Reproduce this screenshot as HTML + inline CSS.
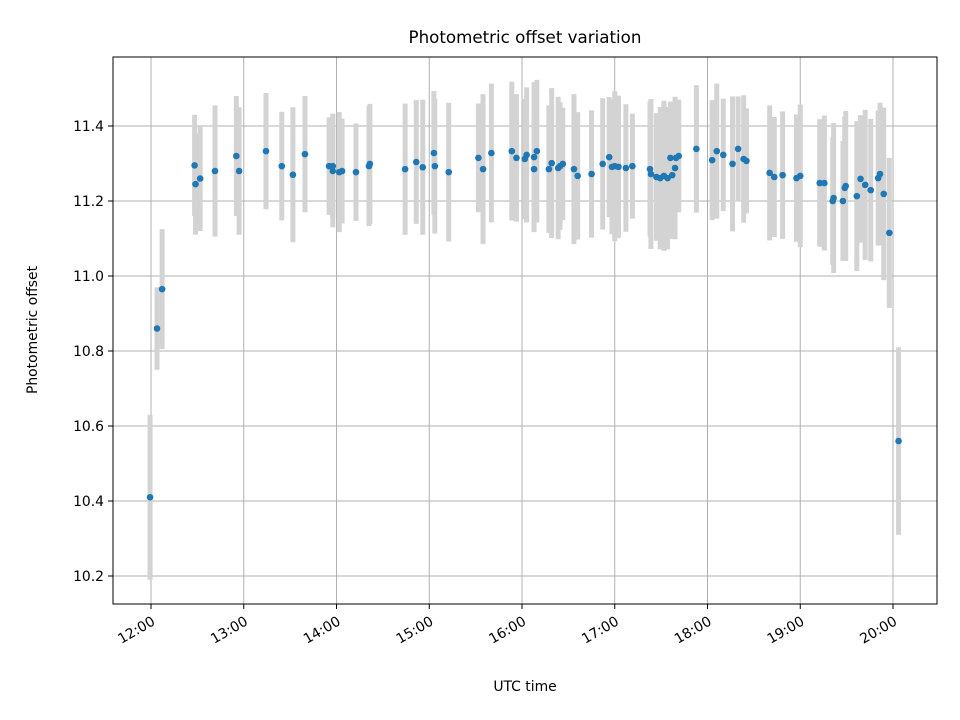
<!DOCTYPE html>
<html><head><meta charset="utf-8"><style>
html,body{margin:0;padding:0;background:#fff;}
svg{display:block;font-family:"DejaVu Sans","Liberation Sans",sans-serif;}
</style></head><body>
<svg id="chart" width="960" height="720" viewBox="0 0 960 720" xmlns="http://www.w3.org/2000/svg">
<rect width="960" height="720" fill="#fff"/>
<g id="grid"></g>
<g id="errs"></g>
<g id="pts"></g>
<rect x="113" y="57" width="824" height="547" fill="none" stroke="#000" stroke-width="1"/>
<g id="axes"></g>
<text x="525" y="43" font-size="16.7" text-anchor="middle">Photometric offset variation</text>
<text x="525" y="691" font-size="13.9" text-anchor="middle">UTC time</text>
<text x="37" y="330" font-size="13.9" text-anchor="middle" transform="rotate(-90 37 330)">Photometric offset</text>
</svg>
<script>
const times=[11.99,12.065,12.12,12.47,12.48,12.53,12.69,12.92,12.95,13.24,13.41,13.53,13.66,13.92,13.96,13.96,14.03,14.06,14.21,14.35,14.36,14.74,14.86,14.93,15.05,15.06,15.21,15.53,15.58,15.67,15.89,15.94,16.03,16.05,16.13,16.16,16.13,16.29,16.32,16.39,16.41,16.44,16.56,16.60,16.75,16.87,16.94,16.97,17.00,17.04,17.12,17.19,17.38,17.39,17.45,17.49,17.53,17.57,17.60,17.62,17.65,17.66,17.69,17.88,18.05,18.10,18.17,18.27,18.33,18.39,18.42,18.67,18.72,18.81,18.96,19.00,19.21,19.26,19.35,19.36,19.46,19.48,19.49,19.61,19.65,19.70,19.76,19.84,19.86,19.90,19.96,20.06];
const values=[10.41,10.86,10.965,11.295,11.245,11.26,11.28,11.32,11.28,11.333,11.293,11.27,11.325,11.293,11.293,11.28,11.277,11.28,11.277,11.293,11.299,11.285,11.304,11.29,11.328,11.293,11.277,11.315,11.285,11.328,11.333,11.315,11.312,11.323,11.317,11.333,11.285,11.285,11.301,11.288,11.293,11.299,11.285,11.267,11.272,11.299,11.317,11.291,11.293,11.291,11.288,11.293,11.285,11.272,11.264,11.261,11.267,11.261,11.315,11.269,11.288,11.315,11.32,11.339,11.309,11.333,11.323,11.299,11.339,11.312,11.307,11.275,11.264,11.269,11.261,11.267,11.248,11.248,11.2,11.208,11.2,11.235,11.24,11.213,11.259,11.243,11.229,11.261,11.272,11.219,11.115,10.56];
const errors=[0.22,0.11,0.16,0.135,0.135,0.14,0.175,0.16,0.17,0.155,0.145,0.18,0.155,0.13,0.14,0.15,0.16,0.14,0.13,0.16,0.16,0.175,0.165,0.18,0.165,0.18,0.185,0.145,0.2,0.185,0.185,0.17,0.16,0.18,0.2,0.19,0.15,0.17,0.2,0.19,0.17,0.15,0.2,0.17,0.17,0.175,0.16,0.18,0.2,0.19,0.17,0.14,0.18,0.2,0.17,0.19,0.2,0.19,0.15,0.17,0.19,0.14,0.15,0.17,0.16,0.18,0.15,0.18,0.14,0.17,0.14,0.18,0.16,0.17,0.17,0.19,0.17,0.18,0.17,0.2,0.16,0.19,0.2,0.2,0.17,0.2,0.19,0.18,0.19,0.23,0.2,0.25];
const xTicks=[12,13,14,15,16,17,18,19,20];
const xTickLabels=["12:00","13:00","14:00","15:00","16:00","17:00","18:00","19:00","20:00"];
const yTicks=[10.2,10.4,10.6,10.8,11.0,11.2,11.4];
const yTickLabels=["10.2","10.4","10.6","10.8","11.0","11.2","11.4"];

const NS="http://www.w3.org/2000/svg";
const L=113,R=937,T=57,B=604;
const xMin=11.5903,xMax=20.4744,yMin=10.1253,yMax=11.584;
function sx(t){return L+(t-xMin)/(xMax-xMin)*(R-L);}
function sy(v){return B-(v-yMin)/(yMax-yMin)*(B-T);}
function mk(tag,attrs,parent){const e=document.createElementNS(NS,tag);for(const k in attrs)e.setAttribute(k,attrs[k]);parent.appendChild(e);return e;}
const grid=document.getElementById('grid'),axes=document.getElementById('axes'),errs=document.getElementById('errs'),pts=document.getElementById('pts');
xTicks.forEach((t,i)=>{
  const x=sx(t);
  const g=mk('line',{x1:x,x2:x,y1:T,y2:B,stroke:'#b0b0b0','stroke-width':1},grid);
  
  
  const tk=mk('line',{x1:x,x2:x,y1:B,y2:B+5,stroke:'#000','stroke-width':1},axes);
  
  
  const ax=x+5,ay=B+20;
  const lb=mk('text',{x:ax,y:ay,'font-size':13.9,'text-anchor':'end',transform:'rotate(-30 '+ax+' '+ay+')'},axes);
  lb.textContent=xTickLabels[i];
  
  
});
yTicks.forEach((v,i)=>{
  const y=sy(v);
  const g=mk('line',{x1:L,x2:R,y1:y,y2:y,stroke:'#b0b0b0','stroke-width':1},grid);
  
  
  const tk=mk('line',{x1:L-5,x2:L,y1:y,y2:y,stroke:'#000','stroke-width':1},axes);
  
  
  const lb=mk('text',{x:L-9,y:y+5,'font-size':13.9,'text-anchor':'end'},axes);
  lb.textContent=yTickLabels[i];
  
  
});
times.forEach((t,i)=>{
  const x=sx(t);
  const e=mk('line',{x1:x,x2:x,y1:sy(values[i]+errors[i]),y2:sy(values[i]-errors[i]),stroke:'#d3d3d3','stroke-width':5},errs);
  
  
});
times.forEach((t,i)=>{
  const c=mk('circle',{cx:sx(t),cy:sy(values[i]),r:3.3,fill:'#1f77b4'},pts);
  
  
});
</script>
</body></html>
